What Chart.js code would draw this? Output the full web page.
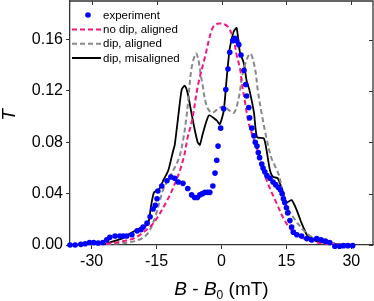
<!DOCTYPE html>
<html><head><meta charset="utf-8">
<script src="https://cdn.jsdelivr.net/npm/chart.js@4/dist/chart.umd.min.js"></script>
<style>html,body{margin:0;padding:0;background:#fff;overflow:hidden}</style>
</head><body>
<canvas id="c" width="374" height="301" style="display:block;width:374px;height:301px"></canvas>
<script>
const xTicks=[-30,-15,0,15,30];
const yTicks=[0,0.04,0.08,0.12,0.16];
const seriesLabels=['experiment','no dip, aligned','dip, aligned','dip, misaligned'];

const expX=[-35,-33.8,-32.5,-31.5,-30.5,-29.5,-28.5,-27.4,-26.5,-25.8,-24.6,-23.5,-22.7,-21.9,-20.7,-19.5,-18.6,-18.1,-17.2,-16.5,-15.8,-15.3,-14.9,-14.7,-13.8,-12.6,-11.7,-10.8,-10,-8.9,-7.8,-6.9,-6.2,-5.6,-5,-4.4,-3.8,-3.2,-2.7,-2.0,-1.5,-1.1,-0.8,-0.2,0.5,1.0,1.5,1.9,2.6,3.1,3.5,4.0,4.5,5.2,5.6,5.8,6.3,6.5,7.0,7.5,7.8,8.2,8.5,8.8,9.3,9.6,10.0,10.5,11.2,11.9,12.5,13.1,13.6,14.0,14.3,14.6,15.0,15.3,15.8,16.2,16.6,17.4,18.5,19.7,20.8,22.0,23.0,24.0,25.0,26.2,27.3,28.2,29.2,30.3];
const expY=[0,0,0.0005,0.001,0.002,0.002,0.0015,0.002,0.004,0.006,0.007,0.007,0.007,0.007,0.008,0.011,0.012,0.014,0.017,0.022,0.028,0.031,0.036,0.042,0.046,0.05,0.053,0.052,0.049,0.048,0.044,0.039,0.037,0.037,0.039,0.04,0.041,0.041,0.041,0.046,0.056,0.066,0.077,0.091,0.106,0.121,0.137,0.15,0.159,0.161,0.159,0.156,0.148,0.136,0.125,0.116,0.107,0.099,0.091,0.085,0.08,0.077,0.072,0.068,0.063,0.06,0.057,0.054,0.052,0.049,0.047,0.045,0.043,0.04,0.036,0.033,0.029,0.025,0.019,0.014,0.01,0.008,0.007,0.005,0.004,0.005,0.004,0.003,0.002,-0.001,-0.001,-0.0005,-0.0005,-0.0005];

const noDipX=[-34,-28,-25,-22,-20,-18,-16,-14.7,-13,-11.9,-10.5,-9.6,-8.6,-7.8,-6.8,-5.4,-3.85,-2.2,-1.2,0.5,1.7,2.85,3.5,4.3,4.7,5.5,6.2,7.0,8.4,9.5,10.7,12.8,14.6,16.9,19,22,26,30];
const noDipY=[0,0.0005,0.0015,0.0035,0.0055,0.01,0.016,0.022,0.032,0.039,0.05,0.058,0.07,0.084,0.097,0.125,0.146,0.168,0.172,0.172,0.169,0.159,0.148,0.137,0.126,0.11,0.096,0.087,0.073,0.06,0.048,0.032,0.019,0.009,0.005,0.002,0.0005,0];

const dipAlX=[-34,-25,-20,-17.3,-15.5,-14.2,-13.5,-12,-10.4,-9.6,-8.85,-8.2,-7.7,-6.9,-5.8,-4.5,-3.4,-2.2,-0.8,0.5,1.7,2.9,4.0,5.0,6.6,7.7,8.4,9.3,10.4,11.5,12.3,13.2,13.9,15,16.5,18.8,21,25,30];
const dipAlY=[0,0.001,0.003,0.008,0.02,0.035,0.043,0.053,0.063,0.07,0.082,0.097,0.112,0.138,0.149,0.127,0.108,0.103,0.106,0.108,0.105,0.103,0.115,0.135,0.149,0.138,0.12,0.102,0.083,0.068,0.062,0.055,0.045,0.031,0.022,0.012,0.006,0.002,0];

const dipMisX=[-34,-28,-25.8,-23,-21.6,-18.8,-17,-16.3,-15.6,-14.5,-13.5,-12.3,-11.2,-10.8,-10,-9.2,-8.5,-7.8,-6.9,-6.2,-5.5,-5,-4.3,-2.9,-1.1,-0.4,0.5,1.2,1.9,2.8,3.5,4.2,5.2,5.8,6.5,7.5,8.2,9.8,10.5,11.2,11.9,13,14.2,15,16.2,17.4,18.5,19.7,21,22,25,30];
const dipMisY=[0,0,0.002,0.005,0.008,0.013,0.016,0.03,0.041,0.043,0.05,0.058,0.073,0.078,0.1,0.121,0.124,0.118,0.102,0.09,0.08,0.078,0.087,0.101,0.097,0.094,0.104,0.13,0.153,0.166,0.169,0.151,0.141,0.128,0.12,0.103,0.084,0.083,0.072,0.058,0.053,0.052,0.041,0.033,0.035,0.027,0.017,0.008,0.004,0.003,0.001,0];

const pts=(xs,ys)=>xs.map((x,i)=>({x:x,y:ys[i]}));

const FONT='"Liberation Sans", Arial, sans-serif';
const colExp='#0000ff', colNoDip='#f5157f', colDipAl='#888888', colDipMis='#000000';

const decor={
  id:'decor',
  beforeDatasetsDraw(chart){
    const ctx=chart.ctx, a=chart.chartArea, xs=chart.scales.x, ys=chart.scales.y;
    ctx.save();
    ctx.strokeStyle='#333'; ctx.lineWidth=1.3;
    ctx.beginPath();
    ctx.moveTo(a.left,a.top);ctx.lineTo(a.right,a.top);ctx.lineTo(a.right,a.bottom);
    ctx.stroke();
    ctx.lineWidth=1;
    ctx.beginPath();
    xTicks.forEach(v=>{const p=Math.round(xs.getPixelForValue(v))+0.5;ctx.moveTo(p,a.top);ctx.lineTo(p,a.top+4);});
    yTicks.forEach(v=>{const p=Math.round(ys.getPixelForValue(v))+0.5;ctx.moveTo(a.right,p);ctx.lineTo(a.right-4,p);});
    ctx.stroke();
    ctx.restore();
  },
  afterDraw(chart){
    const ctx=chart.ctx, a=chart.chartArea;
    ctx.save();
    const lx0=72, lx1=101, tx=103;
    const rows=[15,29.5,43.7,58];
    ctx.font='11.5px '+FONT; ctx.textBaseline='middle'; ctx.textAlign='left';
    const ds=chart.data.datasets;
    ctx.fillStyle=colExp; ctx.beginPath(); ctx.arc(88,rows[0],2.8,0,Math.PI*2); ctx.fill();
    for(let i=1;i<4;i++){
      ctx.strokeStyle=ds[i].borderColor; ctx.lineWidth=2; ctx.setLineDash(ds[i].borderDash||[]);
      ctx.beginPath(); ctx.moveTo(lx0,rows[i]); ctx.lineTo(lx1,rows[i]); ctx.stroke();
    }
    ctx.setLineDash([]);
    ctx.fillStyle='#000';
    for(let i=0;i<4;i++){ ctx.fillText(ds[i].label,tx,rows[i]+0.5); }
    const parts=[['B','italic 19px '+FONT,0],[' - ','19px '+FONT,0],['B','italic 19px '+FONT,0],['0','12px '+FONT,4],[' (mT)','19px '+FONT,0]];
    let w=0; parts.forEach(p=>{ctx.font=p[1]; w+=ctx.measureText(p[0]).width;});
    let x=(a.left+a.right)/2-w/2; const by=295;
    ctx.textBaseline='alphabetic';
    parts.forEach(p=>{ctx.font=p[1]; ctx.fillText(p[0],x,by+p[2]); x+=ctx.measureText(p[0]).width;});
    ctx.translate(15,115); ctx.rotate(-Math.PI/2);
    ctx.font='italic 19px '+FONT; ctx.textAlign='center'; ctx.fillText('T',0,0);
    ctx.restore();
  }
};

new Chart(document.getElementById('c'),{
  type:'scatter',
  data:{datasets:[
    {label:seriesLabels[0],data:pts(expX,expY),showLine:false,pointRadius:2.8,pointBackgroundColor:colExp,pointBorderWidth:0,backgroundColor:colExp,borderColor:colExp,clip:false},
    {label:seriesLabels[1],data:pts(noDipX,noDipY),showLine:true,pointRadius:0,borderColor:colNoDip,borderWidth:2,borderDash:[5,3],tension:0.35},
    {label:seriesLabels[2],data:pts(dipAlX,dipAlY),showLine:true,pointRadius:0,borderColor:colDipAl,borderWidth:2,borderDash:[5,3],tension:0.35},
    {label:seriesLabels[3],data:pts(dipMisX,dipMisY),showLine:true,pointRadius:0,borderColor:colDipMis,borderWidth:1.8,tension:0.2}
  ]},
  options:{
    responsive:false,animation:false,devicePixelRatio:1,
    layout:{autoPadding:false,padding:{top:1,right:1,left:0,bottom:0}},
    plugins:{legend:{display:false},tooltip:{enabled:false}},
    scales:{
      x:{type:'linear',min:-35,max:35,
        afterBuildTicks:s=>{s.ticks=xTicks.map(v=>({value:v}));},
        afterFit:s=>{s.height=56;s.paddingLeft=0;s.paddingRight=0;},
        grid:{drawOnChartArea:false,drawTicks:true,tickLength:4,color:'#333'},
        border:{display:true,color:'#333',width:1.3},
        ticks:{font:{family:FONT,size:16},color:'#000',padding:3,maxRotation:0,callback:v=>String(v)}},
      y:{type:'linear',min:0,max:0.19,
        afterBuildTicks:s=>{s.ticks=yTicks.map(v=>({value:v}));},
        afterFit:s=>{s.width=70;s.paddingTop=0;s.paddingBottom=0;},
        grid:{drawOnChartArea:false,drawTicks:true,tickLength:4,color:'#333'},
        border:{display:true,color:'#333',width:1.3},
        ticks:{font:{family:FONT,size:16},color:'#000',padding:3,callback:v=>v.toFixed(2)}}
    }
  },
  plugins:[decor]
});
</script>
</body></html>
